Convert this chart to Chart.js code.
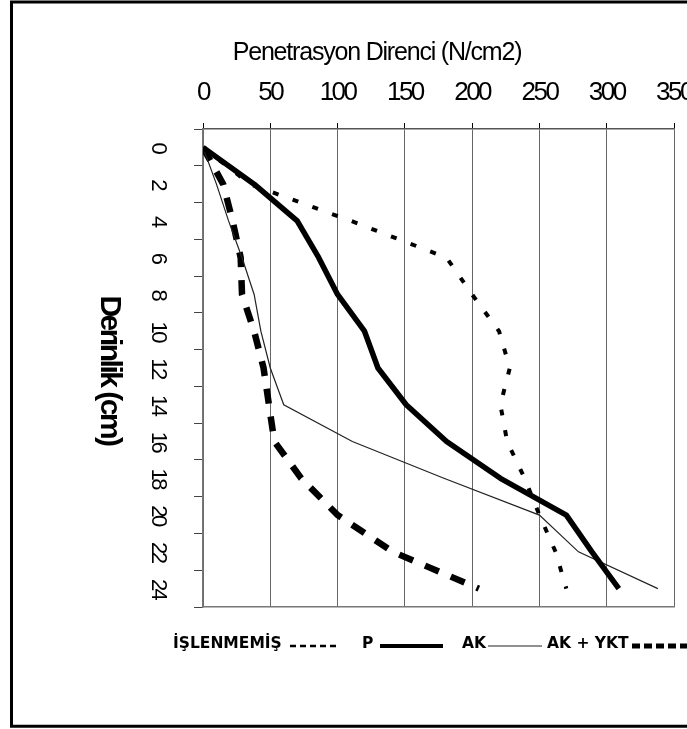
<!DOCTYPE html>
<html>
<head>
<meta charset="utf-8">
<script src="https://cdn.jsdelivr.net/npm/chart.js@4"></script>
<style>
  html, body { margin: 0; padding: 0; background: #fff; }
</style>
</head>
<body>
<canvas id="chart" width="687" height="729"></canvas>
<script>
// derinlik (cm) ve eksen değerleri
var depths = [0, 2, 4, 6, 8, 10, 12, 14, 16, 18, 20, 22, 24];
var xTicks = [0, 50, 100, 150, 200, 250, 300, 350];

// penetrasyon direnci (N/cm2), her derinlik için
var islenmemis = [0, 35, 110, 181, 200, 220, 228, 221, 226, 239, 250, 262, 270];
var pValues    = [0, 38, 70, 86, 100, 120, 130, 151, 181, 221, 270, 289, 309];
var akValues   = [0, 10, 19, 29, 38, 43, 50, 60, 111, 179, 250, 279, 338];
var akYkt      = [0, 15, 22, 28, 29, 38, 45, 49, 53, 73, 100, 141, 205];

var seriesNames = ['İŞLENMEMİŞ', 'P', 'AK', 'AK + YKT'];

function points(vals) {
  return vals.map(function (v, i) { return { x: v, y: depths[i] }; });
}

var FONT = '"Liberation Sans", Arial, Helvetica, sans-serif';
Chart.defaults.font.family = FONT;
Chart.defaults.color = '#000';

// çerçeve, başlıklar ve lejant
var decor = {
  id: 'decor',
  beforeUpdate: function (chart) { chart.ctx.letterSpacing = '-2.5px'; },
  beforeDraw: function (chart) {
    var ctx = chart.ctx;
    ctx.save();
    ctx.fillStyle = '#fff';
    ctx.fillRect(0, 0, chart.width, chart.height);
    ctx.restore();
    ctx.letterSpacing = '-2.5px';
  },
  afterDraw: function (chart) {
    var ctx = chart.ctx;
    ctx.save();
    ctx.strokeStyle = '#000';
    ctx.lineWidth = 3;
    ctx.beginPath();
    ctx.moveTo(11.5, 727.5); ctx.lineTo(11.5, 2); ctx.lineTo(687, 2);
    ctx.moveTo(10, 726.3); ctx.lineTo(687, 726.3);
    ctx.stroke();

    ctx.fillStyle = '#000';
    ctx.textAlign = 'center';
    ctx.textBaseline = 'middle';
    ctx.letterSpacing = '-1.2px';
    ctx.font = '25px ' + FONT;
    ctx.fillText('Penetrasyon Direnci (N/cm2)', 377, 53);

    ctx.save();
    ctx.translate(109, 370);
    ctx.rotate(Math.PI / 2);
    ctx.letterSpacing = '-2.5px';
    ctx.font = 'bold 30px ' + FONT;
    ctx.fillText('Derinlik (cm)', 0, 0);
    ctx.restore();

    // lejant
    var textX = [173, 362, 462, 547];
    var sample = [[290, 340], [380, 443], [488, 542], [632, 690]];
    var sampleWidth = [2.5, 4, 1.2, 5];
    var sampleDash = [[6, 4], [], [], [8, 4]];
    ctx.letterSpacing = '0px';
    ctx.font = 'bold 15.5px "DejaVu Sans", Verdana, sans-serif';
    ctx.textAlign = 'left';
    ctx.textBaseline = 'alphabetic';
    chart.data.datasets.forEach(function (ds, i) {
      ctx.fillStyle = '#000';
      ctx.fillText(ds.label, textX[i], 648);
      ctx.strokeStyle = ds.borderColor;
      ctx.lineWidth = sampleWidth[i];
      ctx.setLineDash(sampleDash[i]);
      ctx.beginPath();
      ctx.moveTo(sample[i][0], 646);
      ctx.lineTo(sample[i][1], 646);
      ctx.stroke();
    });
    ctx.restore();
  }
};

function noPad(s) {
  s.paddingLeft = 0; s.paddingRight = 0; s.paddingTop = 0; s.paddingBottom = 0;
}

new Chart(document.getElementById('chart'), {
  type: 'line',
  data: {
    datasets: [
      { label: seriesNames[0], data: points(islenmemis), borderColor: '#000', borderWidth: 4, borderDash: [6, 15] },
      { label: seriesNames[1], data: points(pValues), borderColor: '#000', borderWidth: 5.5, borderJoinStyle: 'round' },
      { label: seriesNames[2], data: points(akValues), borderColor: '#222', borderWidth: 1.2 },
      { label: seriesNames[3], data: points(akYkt), borderColor: '#000', borderWidth: 6.5, borderDash: [15, 13] }
    ]
  },
  options: {
    responsive: false,
    devicePixelRatio: 1,
    animation: false,
    elements: { point: { radius: 0 }, line: { tension: 0, fill: false } },
    layout: { autoPadding: false, padding: { left: 0, top: 0, right: 13, bottom: 122 } },
    plugins: { legend: { display: false }, tooltip: { enabled: false } },
    scales: {
      x: {
        type: 'linear', position: 'top', min: 0, max: 350,
        afterBuildTicks: function (s) { s.ticks = xTicks.map(function (v) { return { value: v }; }); },
        afterFit: function (s) { s.height = 129; noPad(s); },
        grid: { color: '#666', tickColor: '#000', tickLength: 6, lineWidth: 1 },
        border: { color: '#555', width: 1.5 },
        ticks: { padding: 15, maxRotation: 0, autoSkip: false, font: { size: 26 } }
      },
      x2: {
        type: 'linear', position: 'bottom', min: 0, max: 350,
        afterFit: function (s) { s.height = 0; noPad(s); },
        grid: { display: false, drawTicks: false },
        border: { display: true, color: '#777', width: 1.5 },
        ticks: { display: false }
      },
      y: {
        type: 'linear', reverse: true, min: -1, max: 25,
        afterBuildTicks: function (s) { s.ticks = depths.map(function (v) { return { value: v }; }); },
        afterFit: function (s) { s.width = 203; noPad(s); },
        grid: { offset: true, drawOnChartArea: false, color: '#444', tickLength: 9 },
        border: { color: '#777', width: 1.5 },
        ticks: { minRotation: -90, maxRotation: -90, crossAlign: 'center', padding: 26, autoSkip: false, font: { size: 22 } }
      }
    }
  },
  plugins: [decor]
});
</script>
</body>
</html>
